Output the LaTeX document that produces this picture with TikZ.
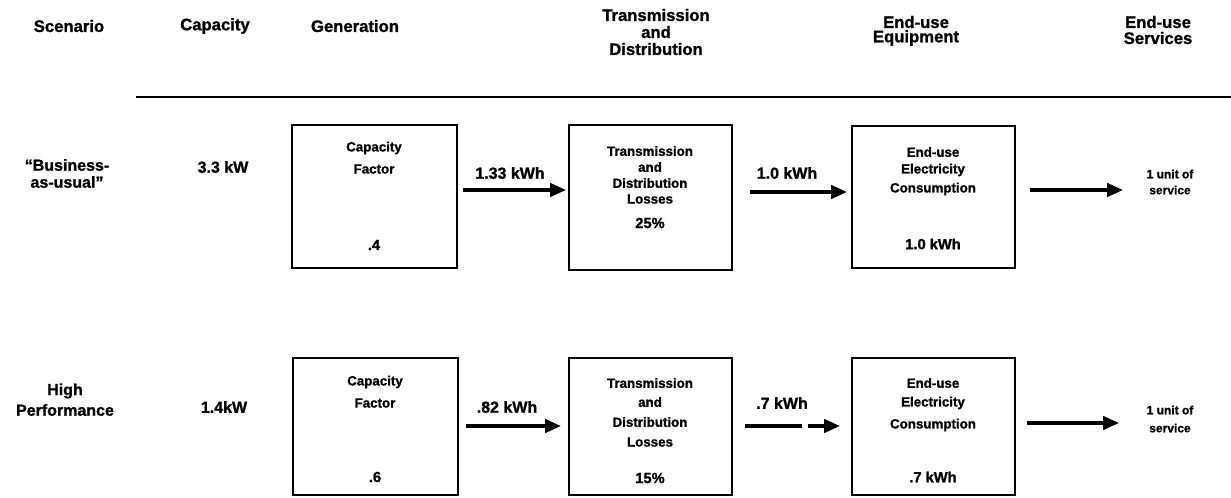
\documentclass[tikz,border=0pt]{standalone}
\usepackage{fontspec}
\setmainfont{Liberation Sans}[BoldFeatures={FakeBold=1.2}]
\usetikzlibrary{arrows.meta}
\begin{document}
\begin{tikzpicture}[x=0.75pt,y=-0.75pt,
  every node/.style={inner sep=0pt,align=center,font=\bfseries},
  head/.style={font=\bfseries\fontsize{12.5}{15}\selectfont},
  scen/.style={font=\bfseries\fontsize{12}{14}\selectfont},
  btxt/.style={font=\bfseries\fontsize{10}{12}\selectfont},
  bval/.style={font=\bfseries\fontsize{11}{13}\selectfont},
  alab/.style={font=\bfseries\fontsize{12}{14}\selectfont},
  slab/.style={font=\bfseries\fontsize{9}{11}\selectfont},
  stagebox/.style={line width=1.4pt},
  flow/.style={line width=2.6pt,-{Triangle[length=12pt,width=10pt]}}]
\useasboundingbox (0,0) rectangle (1231,498);

% column headings
\node[head] (hscen) at (69,26) {Scenario};
\node[head] (hcap) at (215,26) {Capacity};
\node[head] (hgen) at (355,26) {Generation};
\node[head] (htd1) at (656,15) {Transmission};
\node[head] (htd2) at (656,32) {and};
\node[head] (htd3) at (656,49) {Distribution};
\node[head] (heq1) at (916,22) {End-use};
\node[head] (heq2) at (916,38) {Equipment};
\node[head] (hsv1) at (1158,22) {End-use};
\node[head] (hsv2) at (1158,38) {Services};
\coordinate (ruleL) at (136,97);
\coordinate (ruleR) at (1231,97);
\draw[line width=2.2pt] (ruleL) -- (ruleR);

% ---- business-as-usual row ----
\node[scen] (s1a) at (67,165) {“Business-};
\node[scen] (s1b) at (67,182) {as-usual”};
\node[scen] (c1) at (223,167) {3.3 kW};

\draw[stagebox] (292,125) rectangle (457,268);
\node[btxt] (g1a) at (374,148) {Capacity};
\node[btxt] (g1b) at (374,169) {Factor};
\node[bval] (g1v) at (374,245) {.4};

\draw[stagebox] (569,125) rectangle (732,270);
\node[btxt] (t1a) at (650,151) {Transmission};
\node[btxt] (t1b) at (650,167) {and};
\node[btxt] (t1c) at (650,183) {Distribution};
\node[btxt] (t1d) at (650,199) {Losses};
\node[bval] (t1v) at (650,223) {25\%};

\draw[stagebox] (852,126) rectangle (1015,268);
\node[btxt] (e1a) at (933,152) {End-use};
\node[btxt] (e1b) at (933,170) {Electricity};
\node[btxt] (e1c) at (933,189) {Consumption};
\node[bval] (e1v) at (933,244) {1.0 kWh};

\coordinate (a1s) at (463,190); \coordinate (a1t) at (566,190);
\draw[flow] (a1s) -- (a1t);
\node[alab] (a1l) at (510,173) {1.33 kWh};
\coordinate (a2s) at (750,192); \coordinate (a2t) at (847,192);
\draw[flow] (a2s) -- (a2t);
\node[alab] (a2l) at (787,173) {1.0 kWh};
\coordinate (a3s) at (1030,190); \coordinate (a3t) at (1123,190);
\draw[flow] (a3s) -- (a3t);
\node[slab] (u1a) at (1170,174) {1 unit of};
\node[slab] (u1b) at (1170,190) {service};

% ---- high performance row ----
\node[scen] (s2a) at (65,391) {High};
\node[scen] (s2b) at (65,410) {Performance};
\node[scen] (c2) at (224,407) {1.4kW};

\draw[stagebox] (293,358) rectangle (458,495);
\node[btxt] (g2a) at (375,382) {Capacity};
\node[btxt] (g2b) at (375,403) {Factor};
\node[bval] (g2v) at (375,477) {.6};

\draw[stagebox] (569,358) rectangle (732,495);
\node[btxt] (t2a) at (650,383) {Transmission};
\node[btxt] (t2b) at (650,402) {and};
\node[btxt] (t2c) at (650,422) {Distribution};
\node[btxt] (t2d) at (650,442) {Losses};
\node[bval] (t2v) at (650,478) {15\%};

\draw[stagebox] (852,358) rectangle (1015,495);
\node[btxt] (e2a) at (933,383) {End-use};
\node[btxt] (e2b) at (933,403) {Electricity};
\node[btxt] (e2c) at (933,425) {Consumption};
\node[bval] (e2v) at (933,477) {.7 kWh};

\coordinate (b1s) at (466,426); \coordinate (b1t) at (561,426);
\draw[flow] (b1s) -- (b1t);
\node[alab] (b1l) at (507,407) {.82 kWh};
% this arrow's shaft is broken just before the head
\coordinate (b2s) at (745,426); \coordinate (b2t) at (840,426);
\draw[flow,dash pattern=on 43pt off 4pt on 60pt] (b2s) -- (b2t);
\node[alab] (b2l) at (782,403) {.7 kWh};
\coordinate (b3s) at (1027,423); \coordinate (b3t) at (1119,423);
\draw[flow] (b3s) -- (b3t);
\node[slab] (u2a) at (1170,410) {1 unit of};
\node[slab] (u2b) at (1170,428) {service};
\end{tikzpicture}
\end{document}
